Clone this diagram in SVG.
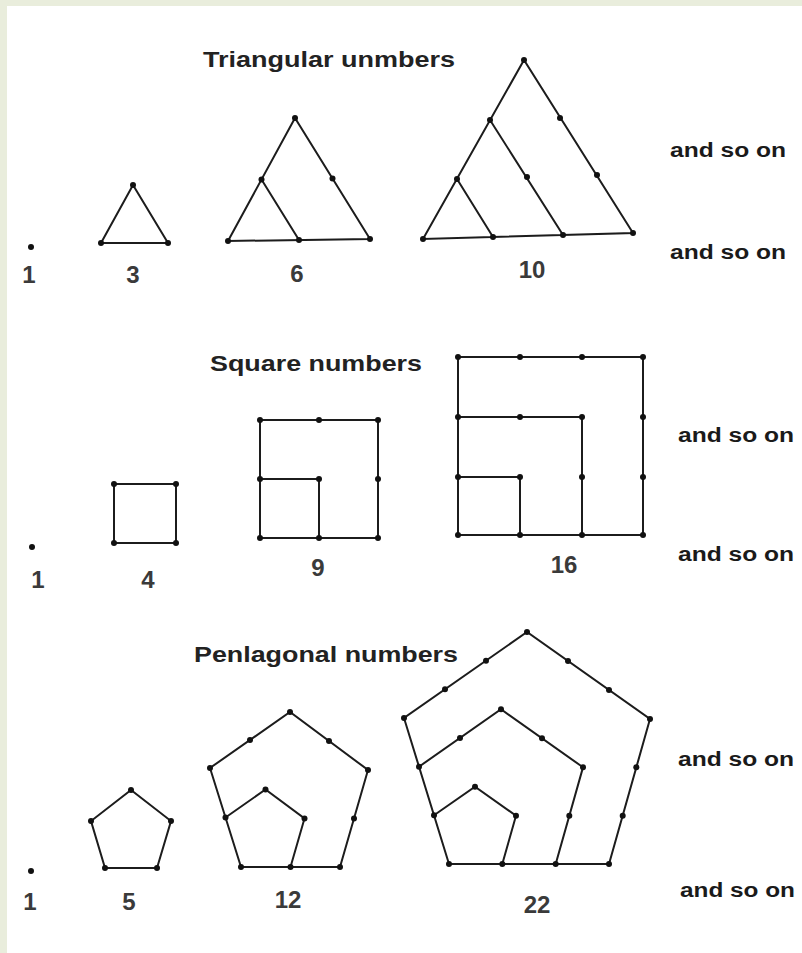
<svg xmlns="http://www.w3.org/2000/svg" width="802" height="953" viewBox="0 0 802 953">
<style>
.ln{fill:none;stroke:#1c1c1c;stroke-width:2;stroke-linejoin:miter}
.dt{fill:#111}
.ttl{font-family:"Liberation Sans",Arial,sans-serif;font-weight:bold;font-size:22px;fill:#222}
.aso{font-family:"Liberation Sans",Arial,sans-serif;font-weight:bold;font-size:20px;fill:#1a1a1a}
.num{font-family:"Liberation Sans",Arial,sans-serif;font-weight:bold;font-size:24px;fill:#3a3a3a;text-anchor:middle}
</style>
<defs><circle id="d" r="3" class="dt"/></defs>
<rect x="0" y="0" width="802" height="953" fill="#e9eddc"/>
<rect x="7" y="6" width="795" height="947" fill="#ffffff"/>

<!-- Titles -->
<text class="ttl" x="203" y="67" textLength="252" lengthAdjust="spacingAndGlyphs">Triangular unmbers</text>
<text class="ttl" x="210" y="371" textLength="212" lengthAdjust="spacingAndGlyphs">Square numbers</text>
<text class="ttl" x="194" y="662" textLength="264" lengthAdjust="spacingAndGlyphs">Penlagonal numbers</text>

<!-- and so on -->
<g id="andsoon">
<text class="aso" x="670" y="157" textLength="116" lengthAdjust="spacingAndGlyphs">and so on</text>
<text class="aso" x="670" y="259" textLength="116" lengthAdjust="spacingAndGlyphs">and so on</text>
<text class="aso" x="678" y="442" textLength="116" lengthAdjust="spacingAndGlyphs">and so on</text>
<text class="aso" x="678" y="561" textLength="116" lengthAdjust="spacingAndGlyphs">and so on</text>
<text class="aso" x="678" y="766" textLength="116" lengthAdjust="spacingAndGlyphs">and so on</text>
<text class="aso" x="680" y="897" textLength="115" lengthAdjust="spacingAndGlyphs">and so on</text>
</g>

<!-- Triangular -->
<g id="tri1"><use href="#d" x="31" y="247"/><text class="num" x="29" y="283">1</text></g>
<g id="tri3">
<path class="ln" d="M101,243 L133,185 L168,243 Z"/>
<use href="#d" x="101" y="243"/><use href="#d" x="133" y="185"/><use href="#d" x="168" y="243"/>
<text class="num" x="133" y="283">3</text>
</g>
<g id="tri6">
<path class="ln" d="M228,241 L295,118 L370,239 Z M261.5,179.5 L299,240"/>
<use href="#d" x="228" y="241"/><use href="#d" x="295" y="118"/><use href="#d" x="370" y="239"/>
<use href="#d" x="261.5" y="179.5"/><use href="#d" x="332.5" y="178.5"/><use href="#d" x="299" y="240"/>
<text class="num" x="297" y="282">6</text>
</g>
<g id="tri10">
<path class="ln" d="M423,239 L524,60 L633,233 Z M457,179 L493,237 M490,120 L563,235"/>
<use href="#d" x="423" y="239"/><use href="#d" x="524" y="60"/><use href="#d" x="633" y="233"/>
<use href="#d" x="457" y="179"/><use href="#d" x="490" y="120"/>
<use href="#d" x="560" y="118"/><use href="#d" x="597" y="175"/>
<use href="#d" x="493" y="237"/><use href="#d" x="563" y="235"/>
<use href="#d" x="527" y="177"/>
<text class="num" x="532" y="278">10</text>
</g>

<!-- Squares -->
<g id="sq1"><use href="#d" x="32" y="547"/><text class="num" x="38" y="588">1</text></g>
<g id="sq4">
<rect class="ln" x="114" y="484" width="62" height="59"/>
<use href="#d" x="114" y="484"/><use href="#d" x="176" y="484"/><use href="#d" x="114" y="543"/><use href="#d" x="176" y="543"/>
<text class="num" x="148" y="588">4</text>
</g>
<g id="sq9">
<rect class="ln" x="260" y="420" width="118" height="118"/>
<path class="ln" d="M260,479 H319 V538"/>
<use href="#d" x="260" y="420"/><use href="#d" x="319" y="420"/><use href="#d" x="378" y="420"/>
<use href="#d" x="260" y="479"/><use href="#d" x="319" y="479"/><use href="#d" x="378" y="479"/>
<use href="#d" x="260" y="538"/><use href="#d" x="319" y="538"/><use href="#d" x="378" y="538"/>
<text class="num" x="318" y="576">9</text>
</g>
<g id="sq16">
<rect class="ln" x="458" y="357" width="185" height="178"/>
<path class="ln" d="M458,417 H582 V535 M458,477 H520 V535"/>
<use href="#d" x="458" y="357"/><use href="#d" x="520" y="357"/><use href="#d" x="582" y="357"/><use href="#d" x="643" y="357"/>
<use href="#d" x="458" y="417"/><use href="#d" x="520" y="417"/><use href="#d" x="582" y="417"/><use href="#d" x="643" y="417"/>
<use href="#d" x="458" y="477"/><use href="#d" x="520" y="477"/><use href="#d" x="582" y="477"/><use href="#d" x="643" y="477"/>
<use href="#d" x="458" y="535"/><use href="#d" x="520" y="535"/><use href="#d" x="582" y="535"/><use href="#d" x="643" y="535"/>
<text class="num" x="564" y="573">16</text>
</g>

<!-- Pentagonal -->
<g id="pen1"><use href="#d" x="31" y="871"/><text class="num" x="30" y="910">1</text></g>
<g id="pen5">
<path class="ln" d="M105,868 L91,821 L131,790 L171,821 L157,868 Z"/>
<use href="#d" x="105" y="868"/><use href="#d" x="91" y="821"/><use href="#d" x="131" y="790"/><use href="#d" x="171" y="821"/><use href="#d" x="157" y="868"/>
<text class="num" x="129" y="910">5</text>
</g>
<g id="pen12">
<path class="ln" d="M241,867 L210,768 L290,712 L368,770 L340,867 Z M225.5,817.5 L265.5,789.5 L304.5,818.5 L290.5,867"/>
<use href="#d" x="241" y="867"/><use href="#d" x="210" y="768"/><use href="#d" x="290" y="712"/><use href="#d" x="368" y="770"/><use href="#d" x="340" y="867"/>
<use href="#d" x="225.5" y="817.5"/><use href="#d" x="250" y="740"/><use href="#d" x="329" y="741"/><use href="#d" x="354" y="818.5"/><use href="#d" x="290.5" y="867"/>
<use href="#d" x="265.5" y="789.5"/><use href="#d" x="304.5" y="818.5"/>
<text class="num" x="288" y="908">12</text>
</g>
<g id="pen22">
<path class="ln" d="M449,864 L404,718 L527,632 L650,719 L609,864 Z M419,766.7 L501,709.3 L583,767.3 L555.7,864 M434,815.3 L475,786.7 L516,815.7 L502.3,864"/>
<use href="#d" x="449" y="864"/><use href="#d" x="404" y="718"/><use href="#d" x="527" y="632"/><use href="#d" x="650" y="719"/><use href="#d" x="609" y="864"/>
<use href="#d" x="434" y="815.3"/><use href="#d" x="419" y="766.7"/>
<use href="#d" x="445" y="689.3"/><use href="#d" x="486" y="660.7"/>
<use href="#d" x="568" y="661"/><use href="#d" x="609" y="690"/>
<use href="#d" x="636.3" y="767.3"/><use href="#d" x="622.7" y="815.7"/>
<use href="#d" x="502.3" y="864"/><use href="#d" x="555.7" y="864"/>
<use href="#d" x="501" y="709.3"/><use href="#d" x="583" y="767.3"/>
<use href="#d" x="460" y="738"/><use href="#d" x="542" y="738.3"/><use href="#d" x="569.3" y="815.7"/>
<use href="#d" x="475" y="786.7"/><use href="#d" x="516" y="815.7"/>
<text class="num" x="537" y="913">22</text>
</g>
</svg>
